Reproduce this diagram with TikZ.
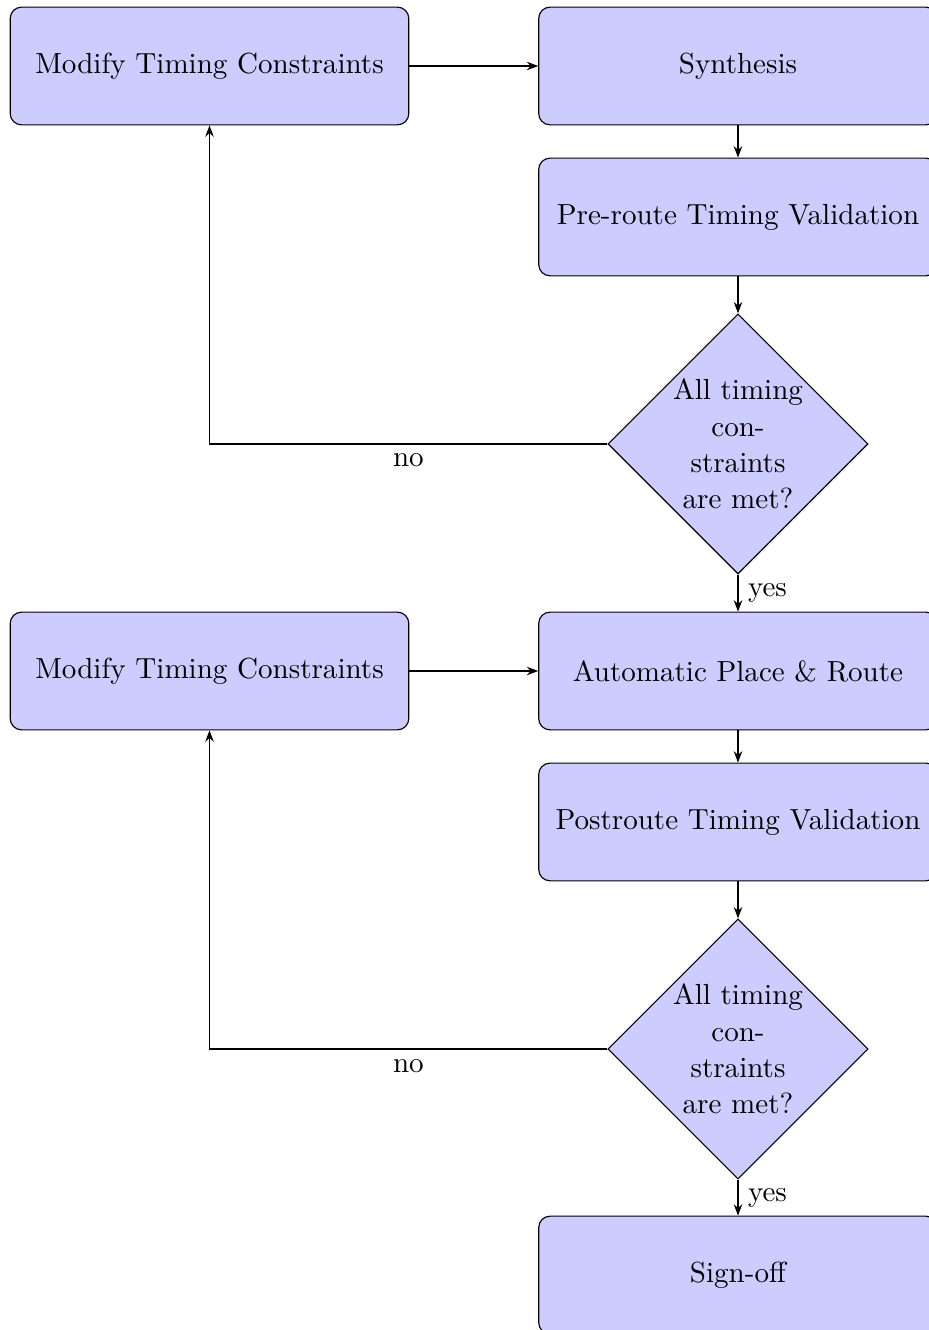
\documentclass[tikz,border=0pt]{standalone}
\usetikzlibrary{shapes.geometric,arrows.meta}
\begin{document}
\begin{tikzpicture}[
    font=\fontsize{10.27pt}{12.84pt}\selectfont,
    block/.style={rectangle, draw, fill=blue!20, rounded corners,
        minimum width=4.95cm, minimum height=41.6pt, align=center},
    decision/.style={diamond, draw, fill=blue!20, inner sep=0pt,
        minimum width=91pt, minimum height=91pt, align=center},
    line/.style={draw, -{Stealth[length=4pt,width=3pt]}}
    ]
            % Frame
            \useasboundingbox (0, 0) rectangle (11.526, -16.519);
            
            % Nodes
            \node[block] (modify1) at (2.602, -0.820) {Modify Timing Constraints};
            \node[block] (synth) at (9.166, -0.820) {Synthesis};
            \node[block] (preroute) at (9.166, -2.695) {Pre-route Timing Validation};
            \node[decision] (check1) at (9.166, -5.514) {All timing\\con-\\straints\\are met?};
            \node[block] (modify2) at (2.602, -8.334) {Modify Timing Constraints};
            \node[block] (apr) at (9.166, -8.334) {Automatic Place \& Route};
            \node[block] (postroute) at (9.166, -10.209) {Postroute Timing Validation};
            \node[decision] (check2) at (9.166, -13.029) {All timing\\con-\\straints\\are met?};
            \node[block] (signoff) at (9.166, -15.836) {Sign-off};
            
            % Lines
            \path[line] (modify1) -- (synth);
            \path[line] (synth) -- (preroute);
            \path[line] (preroute) -- (check1);
            \path[line] (check1) -- node[right] {yes} (apr);
            \path[line] (check1) -| node[pos=0.25, below] {no} (modify1);
            \path[line] (modify2) -- (apr);
            \path[line] (apr) -- (postroute);
            \path[line] (postroute) -- (check2);
            \path[line] (check2) -- node[right] {yes} (signoff);
            \path[line] (check2) -| node[pos=0.25, below] {no} (modify2);
            
\end{tikzpicture}
\end{document}
